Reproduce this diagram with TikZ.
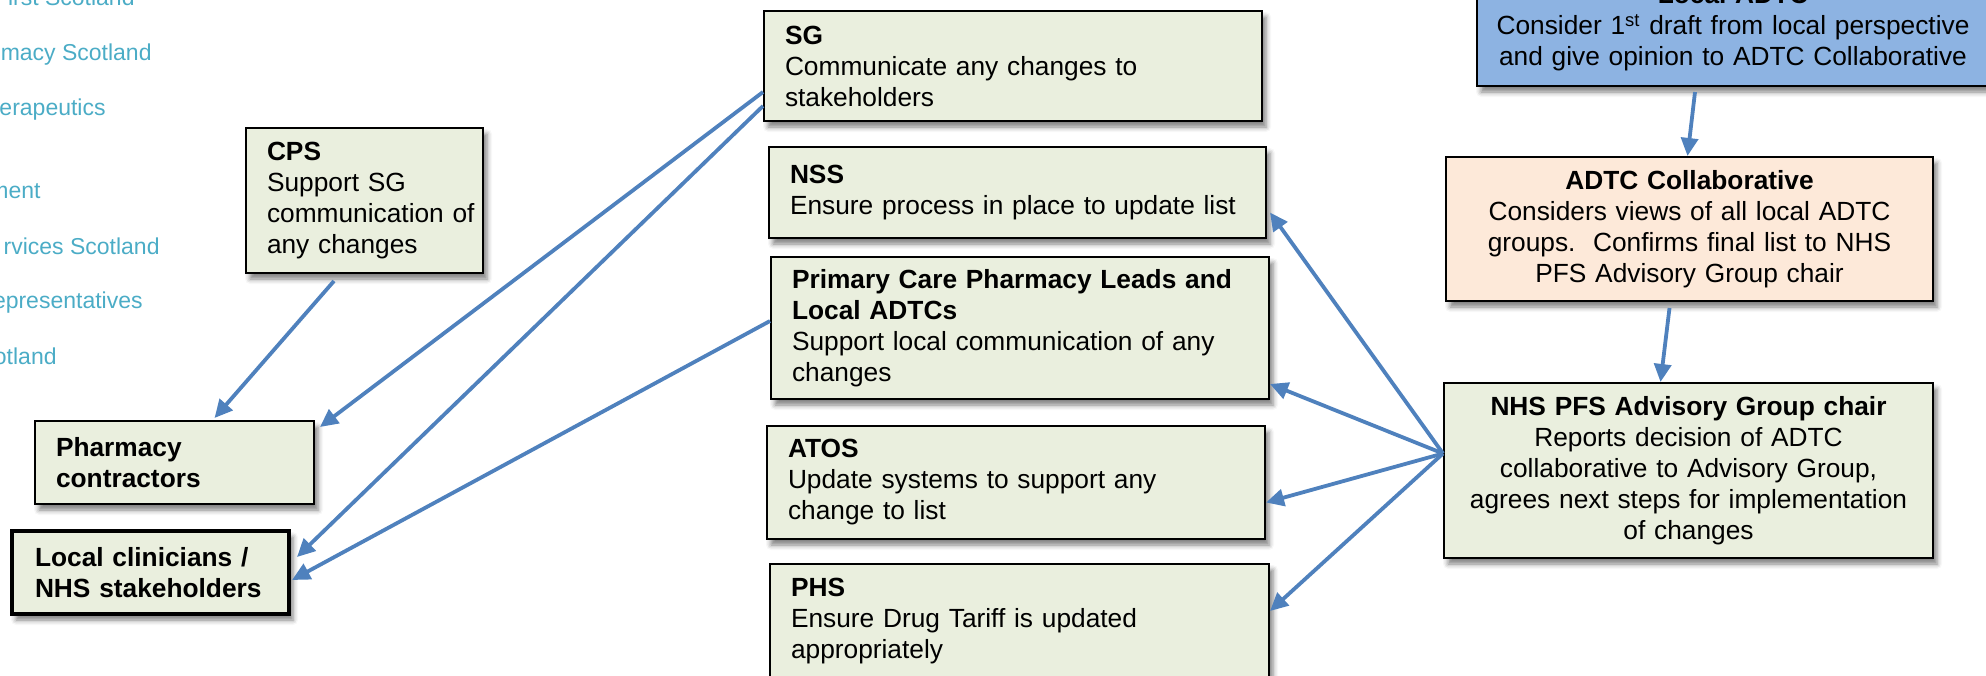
\documentclass[tikz,border=0pt]{standalone}
\usepackage{fontspec}
\setmainfont{Liberation Sans}
\usetikzlibrary{arrows.meta,calc,shadows.blur}
\definecolor{boxfill}{HTML}{EAEFDE}
\definecolor{adtcblue}{HTML}{8DB3E2}
\definecolor{collabfill}{HTML}{FDE9D9}
\definecolor{arrowblue}{HTML}{4F81BD}
\definecolor{listcyan}{HTML}{4BACC6}
\newcommand\bxfont{\fontsize{13.15}{15.5}\selectfont}
\newcommand\lsfont{\fontsize{11.5}{13.5}\selectfont}
\begin{document}
\begin{tikzpicture}[x=0.5pt,y=-0.5pt,
  box/.style={draw=black, line width=1pt, fill=boxfill, anchor=north west,
    inner xsep=10.5pt, inner ysep=0pt, align=left, font=\bxfont,
    blur shadow={shadow xshift=2pt, shadow yshift=-3pt, shadow blur radius=2.5pt, shadow opacity=50}},
  cbox/.style={box, align=center, inner xsep=4pt},
  arr/.style={draw=arrowblue, line width=1.9pt, -{Triangle[length=9pt,width=8.5pt]}},
  listtxt/.style={text=listcyan, font=\lsfont, anchor=base east, inner sep=0pt}]
\useasboundingbox (0,0) rectangle (1986,675);
\clip (0,0) rectangle (1986,675);

% left list (cut off at the left edge)
\node[listtxt] (l1) at (135,5) {irst Scotland};
\node[listtxt] (l2) at (152,60) {macy Scotland};
\node[listtxt] (l3) at (106,115) {erapeutics};
\node[listtxt] (l4) at (41,198) {ment};
\node[listtxt] (l5) at (160,254) {rvices Scotland};
\node[listtxt] (l6) at (143,308) {epresentatives};
\node[listtxt] (l7) at (57,364) {cotland};

% left boxes
\node[box, text width=97.5pt, minimum height=72.5pt] (cps) at (245,127)
  {\textbf{CPS}\\Support SG\\communication~of\\any changes};
\node[box, text width=118.5pt, minimum height=41.5pt] (pc) at (34,420)
  {\textbf{Pharmacy}\\\textbf{contractors}};
\node[box, line width=2pt, inner xsep=11.5pt, text width=115.5pt, minimum height=41.5pt] (lc) at (10,529)
  {\textbf{Local clinicians /}\\\textbf{NHS stakeholders}};

% middle column
\node[box, text width=228pt, minimum height=55pt] (sg) at (763,10)
  {\textbf{SG}\\Communicate any changes to\\stakeholders};
\node[box, text width=227.5pt, minimum height=45.5pt] (nss) at (768,146)
  {\textbf{NSS}\\Ensure process in place to update list};
\node[box, text width=228pt, minimum height=71pt] (pcl) at (770,256)
  {\textbf{Primary Care Pharmacy Leads and}\\\textbf{Local ADTCs}\\Support local communication of any\\changes};
\node[box, text width=228pt, minimum height=56.5pt] (atos) at (766,425)
  {\textbf{ATOS}\\Update systems to support any\\change to list};
\node[box, text width=228.5pt, minimum height=57pt] (phs) at (769,563)
  {\textbf{PHS}\\Ensure Drug Tariff is updated\\appropriately};

% right column
\node[cbox, fill=adtcblue, text width=248pt, minimum height=58pt] (ladtc) at (1476,-31)
  {\textbf{Local ADTC}\\Consider 1\textsuperscript{st} draft from local perspective\\and give opinion to ADTC Collaborative};
\node[cbox, fill=collabfill, text width=235.5pt, minimum height=72pt] (collab) at (1445,156)
  {\textbf{ADTC Collaborative}\\Considers views of all local ADTC\\groups.\ \ Confirms final list to NHS\\PFS Advisory Group chair};
\node[cbox, text width=236.5pt, minimum height=87.5pt] (nhs) at (1443,382)
  {\textbf{NHS PFS Advisory Group chair}\\Reports decision of ADTC\\collaborative to Advisory Group,\\agrees next steps for implementation\\of changes};

% connectors
\draw[arr] ($(cps.south)+(-30.5,7)$) -- ($(pc.north)+(40,-2)$);
\draw[arr] ($(sg.west)+(0,26)$) -- ($(pc.north east)+(5,7)$);
\draw[arr] ($(sg.west)+(0,40)$) -- ($(lc.north east)+(6,28)$);
\draw[arr] ($(pcl.west)+(0,-7)$) -- ($(lc.north east)+(1,51)$);
\draw[arr] ($(ladtc.south)+(-38,5)$) -- ($(collab.north)+(-2,0)$);
\draw[arr] ($(collab.south)+(-20,6)$) -- ($(nhs.north)+(-28,0)$);
\coordinate (hub) at ($(nhs.west)+(0,-17)$);
\draw[arr] (hub) -- ($(nss.east)+(3,20)$);
\draw[arr] (hub) -- ($(pcl.east)+(0,56)$);
\draw[arr] (hub) -- ($(atos.east)+(0,20)$);
\draw[arr] (hub) -- ($(phs.east)+(0,-10)$);
\end{tikzpicture}
\end{document}
